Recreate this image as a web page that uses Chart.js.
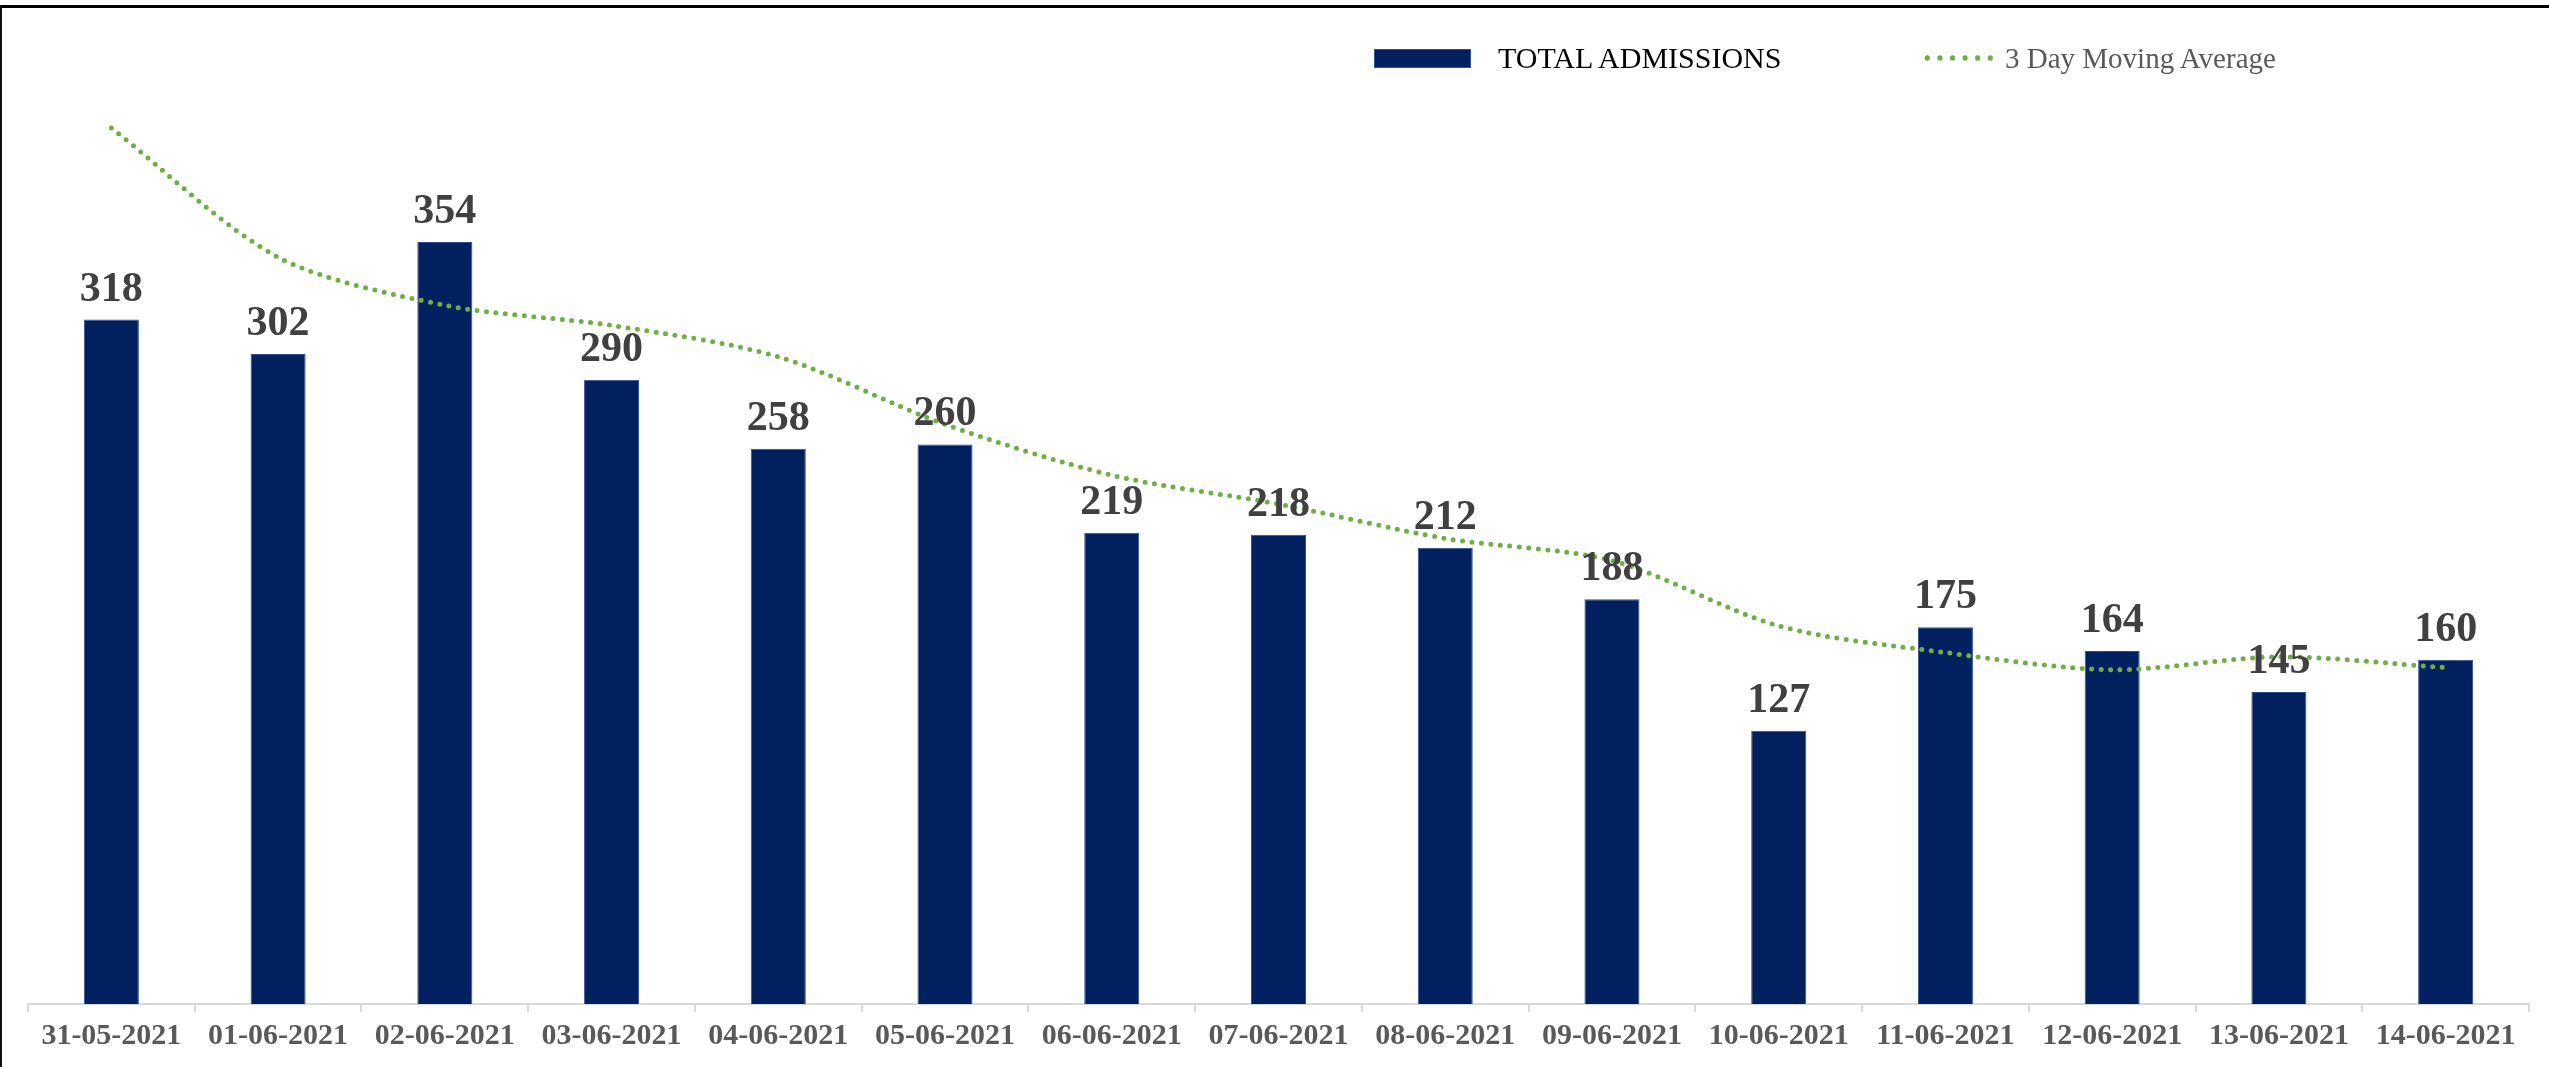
<!DOCTYPE html>
<html>
<head>
<meta charset="utf-8">
<title>Total Admissions</title>
<script src="https://cdn.jsdelivr.net/npm/chart.js@4.4.1/dist/chart.umd.min.js"></script>
<style>
  html, body { margin: 0; padding: 0; background: #fff; overflow: hidden; }
  #wrap { position: relative; width: 2549px; height: 1067px; }
  #frame {
    position: absolute; top: 5px; left: 0; right: 0; bottom: 0;
    border-top: 3px solid #000; border-left: 2px solid #111;
    pointer-events: none;
  }
  .legend { position: absolute; top: 43px; font-family: "Liberation Serif", serif; display: flex; align-items: center; height: 30px; }
  .box { width: 95px; height: 17px; background: #002060; border: 1px solid #2f5597; margin-right: 27px; }
  .dots {
    width: 76px; height: 6px; margin-right: 8px;
    background: radial-gradient(circle, #70ad47 2.4px, transparent 3px) repeat-x;
    background-size: 12.6px 6px;
  }
</style>
</head>
<body>
<div id="wrap">
  <canvas id="admChart"></canvas>
  <div class="legend" style="left:1374px;color:#000;font-size:30px"><span class="box"></span>TOTAL ADMISSIONS</div>
  <div class="legend" style="left:1921px;color:#595959;font-size:29px"><span class="dots"></span>3 Day Moving Average</div>
  <div id="frame"></div>
</div>
<script>
// Data
const dates = [
  "31-05-2021", "01-06-2021", "02-06-2021", "03-06-2021", "04-06-2021",
  "05-06-2021", "06-06-2021", "07-06-2021", "08-06-2021", "09-06-2021",
  "10-06-2021", "11-06-2021", "12-06-2021", "13-06-2021", "14-06-2021"
];
const admissions = [318, 302, 354, 290, 258, 260, 219, 218, 212, 188, 127, 175, 164, 145, 160];
const movingAvg = [407, 347, 324.7, 315.3, 300.7, 269.3, 245.7, 232.3, 216.3, 206, 175.7, 163.3, 155.3, 161.3, 156.3];

// value labels on top of the bars
const barLabels = {
  id: "barLabels",
  afterDatasetsDraw(chart) {
    const meta = chart.getDatasetMeta(0);
    const ctx = chart.ctx;
    ctx.save();
    ctx.font = "bold 42px 'Liberation Serif'";
    ctx.fillStyle = "#404040";
    ctx.textAlign = "center";
    ctx.textBaseline = "alphabetic";
    meta.data.forEach((bar, i) => {
      ctx.fillText(String(admissions[i]), bar.x, bar.y - 19);
    });
    ctx.restore();
  }
};

document.addEventListener("DOMContentLoaded", function () {
  const ctx = document.getElementById("admChart");
  new Chart(ctx, {
    type: "bar",
    data: {
      labels: dates,
      datasets: [
        {
          label: "TOTAL ADMISSIONS",
          data: admissions,
          backgroundColor: "#002060",
          borderColor: "#2f4f8f",
          borderWidth: 1,
          barPercentage: 0.33,
          categoryPercentage: 1,
          order: 1
        },
        {
          type: "line",
          label: "3 Day Moving Average",
          data: movingAvg,
          borderColor: "#70ad47",
          borderWidth: 5,
          borderDash: [0, 9.5],
          borderCapStyle: "round",
          tension: 0.3,
          pointRadius: 0,
          fill: false,
          order: 0
        }
      ]
    },
    options: {
      responsive: true,
      maintainAspectRatio: false,
      animation: false,
      layout: { padding: { top: 57, left: 28, right: 20, bottom: 7 } },
      plugins: {
        legend: { display: false },
        tooltip: { enabled: false }
      },
      scales: {
        y: { display: false, min: 0, max: 440 },
        x: {
          offset: true,
          grid: {
            display: true,
            drawOnChartArea: false,
            drawTicks: true,
            tickLength: 8,
            color: "#d9d9d9",
            lineWidth: 2
          },
          border: { display: true, color: "#d9d9d9", width: 2 },
          ticks: {
            padding: 6,
            maxRotation: 0,
            autoSkip: false,
            color: "#595959",
            font: { family: "'Liberation Serif'", size: 30, weight: "bold" }
          }
        }
      }
    },
    plugins: [barLabels]
  });
});
</script>
</body>
</html>
